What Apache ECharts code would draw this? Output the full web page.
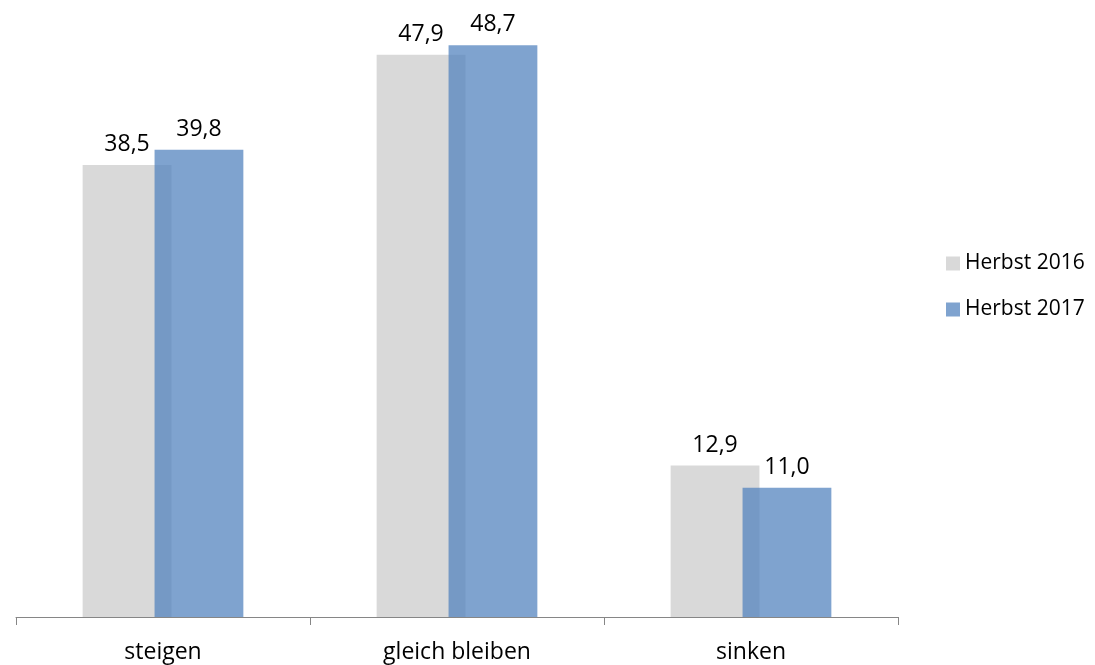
<!DOCTYPE html>
<html><head><meta charset="utf-8">
<script src="https://cdn.jsdelivr.net/npm/echarts@6/dist/echarts.min.js"></script>
<style>html,body{margin:0;padding:0;background:#fff}#c{width:1095px;height:665px}</style>
</head><body><div id="c"></div>
<script>
const categories = ['steigen', 'gleich bleiben', 'sinken'];
const seriesNames = ['Herbst 2016', 'Herbst 2017'];
const herbst2016 = [38.5, 47.9, 12.9];
const herbst2017 = [39.8, 48.7, 11.0];

const FONT = 'Open Sans';
const fmt = p => p.value.toFixed(1).replace('.', ',');
const chart = echarts.init(document.getElementById('c'), null, {renderer: 'canvas'});
chart.setOption({
  animation: false,
  textStyle: {fontFamily: FONT},
  grid: {left: 16, right: 197, top: 30, bottom: 48, containLabel: false},
  legend: {
    orient: 'vertical', left: 941, top: 248, itemWidth: 14, itemHeight: 14, itemGap: 25,
    icon: 'rect',
    textStyle: {fontFamily: FONT, fontSize: 21, color: '#000', padding: [0, 0, 0, 0]},
    data: seriesNames
  },
  xAxis: {
    type: 'category', data: categories, boundaryGap: true,
    axisLine: {lineStyle: {color: '#868686', width: 1}},
    axisTick: {show: true, length: 8, inside: false, lineStyle: {color: '#868686'}},
    axisLabel: {fontFamily: FONT, fontSize: 23, color: '#000', margin: 24}
  },
  yAxis: {type: 'value', min: 0, max: 50, show: false, splitLine: {show: false}},
  series: [
    {
      name: seriesNames[0], type: 'bar', data: herbst2016, barWidth: '30.2%', barGap: '-19%',
      itemStyle: {color: '#D9D9D9'},
      label: {show: true, position: 'top', distance: 9, formatter: fmt, fontFamily: FONT, fontSize: 23, color: '#000'}
    },
    {
      name: seriesNames[1], type: 'bar', data: herbst2017, barWidth: '30.2%',
      itemStyle: {color: 'rgba(79,129,189,0.73)'},
      label: {show: true, position: 'top', distance: 9, formatter: fmt, fontFamily: FONT, fontSize: 23, color: '#000'}
    }
  ]
});
</script></body></html>
